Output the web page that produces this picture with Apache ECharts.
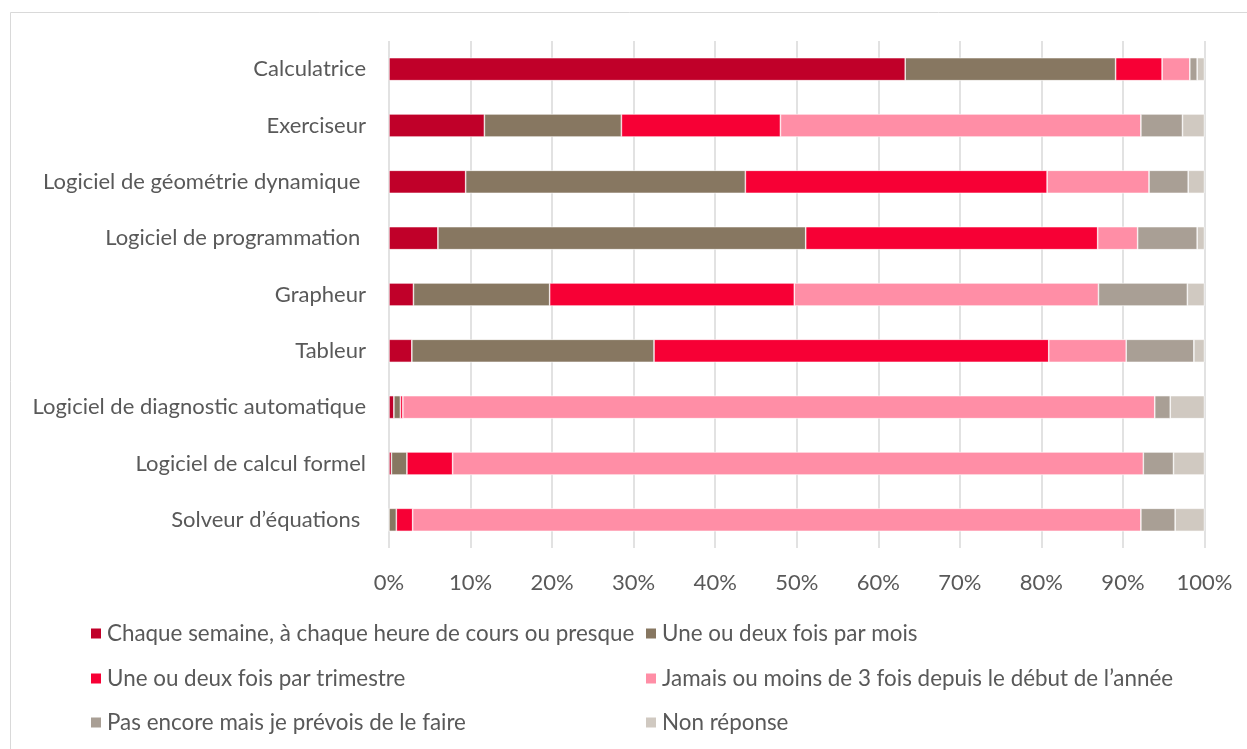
<!DOCTYPE html>
<html>
<head>
<meta charset="utf-8">
<script src="https://cdn.jsdelivr.net/npm/echarts@6/dist/echarts.min.js"></script>
<style>
html,body{margin:0;padding:0;background:#fff;}
#c{width:1247px;height:749px;}
</style>
</head>
<body>
<div id="c"></div>
<script>
const categories = [
  "Calculatrice",
  "Exerciseur",
  "Logiciel de géométrie dynamique ",
  "Logiciel de programmation ",
  "Grapheur",
  "Tableur",
  "Logiciel de diagnostic automatique",
  "Logiciel de calcul formel",
  "Solveur d’équations "
];
const seriesNames = [
  "Chaque semaine, à chaque heure de cours ou presque",
  "Une ou deux fois par mois",
  "Une ou deux fois par trimestre",
  "Jamais ou moins de 3 fois depuis le début de l’année",
  "Pas encore mais je prévois de le faire",
  "Non réponse"
];
const chaqueSemaine = [63.3, 11.7, 9.4, 6.0, 3.0, 2.8, 0.6, 0.3, 0.0];
const parMois       = [25.8, 16.8, 34.3, 45.1, 16.7, 29.7, 0.8, 1.9, 0.9];
const parTrimestre  = [5.7, 19.5, 37.0, 35.8, 30.0, 48.4, 0.3, 5.6, 2.0];
const jamais        = [3.4, 44.2, 12.5, 4.9, 37.3, 9.5, 92.2, 84.7, 89.3];
const pasEncore     = [0.9, 5.1, 4.8, 7.3, 10.9, 8.3, 1.9, 3.7, 4.2];
const nonReponse    = [0.9, 2.7, 2.0, 0.9, 2.1, 1.3, 4.2, 3.8, 3.6];
const tickLabels = ["0%","10%","20%","30%","40%","50%","60%","70%","80%","90%","100%"];

const colors = ["#C00029", "#877761", "#F70035", "#FF8EA6", "#A99F95", "#D0C9C1"];
const values = [chaqueSemaine, parMois, parTrimestre, jamais, pasEncore, nonReponse];
const FONT = "Lato";
const FS = 22;
const LFS = 22.4;
const TXT = "#595959";

const chart = echarts.init(document.getElementById('c'), null, {renderer: 'canvas'});

const legendPos = [
  {left: 89, top: 622.5}, {left: 644, top: 622.5},
  {left: 89, top: 667.5}, {left: 644, top: 667.5},
  {left: 89, top: 711.5}, {left: 644, top: 711.5}
];

const option = {
  backgroundColor: '#fff',
  animation: false,
  textStyle: {fontFamily: FONT},
  graphic: [{
    type: 'rect',
    shape: {x: 10.5, y: 12.5, width: 1400, height: 900},
    style: {fill: 'none', stroke: '#d9d9d9', lineWidth: 1},
    silent: true, z: -10
  }],
  grid: {left: 389, right: 42.5, top: 41, bottom: 201, containLabel: false},
  legend: seriesNames.map((n, i) => ({
    data: [n],
    left: legendPos[i].left,
    top: legendPos[i].top,
    icon: 'rect',
    itemWidth: 12,
    itemHeight: 12,
    itemGap: 6,
    padding: 0,
    selectedMode: false,
    textStyle: {color: TXT, fontSize: LFS, fontFamily: FONT, padding: [0, 0, 0, 0]}
  })),
  xAxis: {
    type: 'value',
    min: 0, max: 100, interval: 10,
    axisLine: {show: false},
    axisTick: {show: false},
    splitLine: {show: true, lineStyle: {color: '#d9d9d9', width: 1.5}},
    axisLabel: {
      color: TXT, fontSize: FS, fontFamily: FONT, margin: 24,
      formatter: v => tickLabels[Math.round(v / 10)]
    }
  },
  yAxis: {
    type: 'category',
    data: categories,
    inverse: true,
    axisLine: {show: false},
    axisTick: {show: false},
    splitLine: {show: false},
    axisLabel: {color: TXT, fontSize: FS, fontFamily: FONT, margin: 23}
  },
  series: seriesNames.map((n, i) => ({
    name: n,
    type: 'bar',
    stack: 'total',
    data: values[i],
    barWidth: 23,
    itemStyle: {color: colors[i], borderColor: '#ffffff', borderWidth: 0.6},
    emphasis: {disabled: true}
  }))
};
chart.setOption(option);
</script>
</body>
</html>
